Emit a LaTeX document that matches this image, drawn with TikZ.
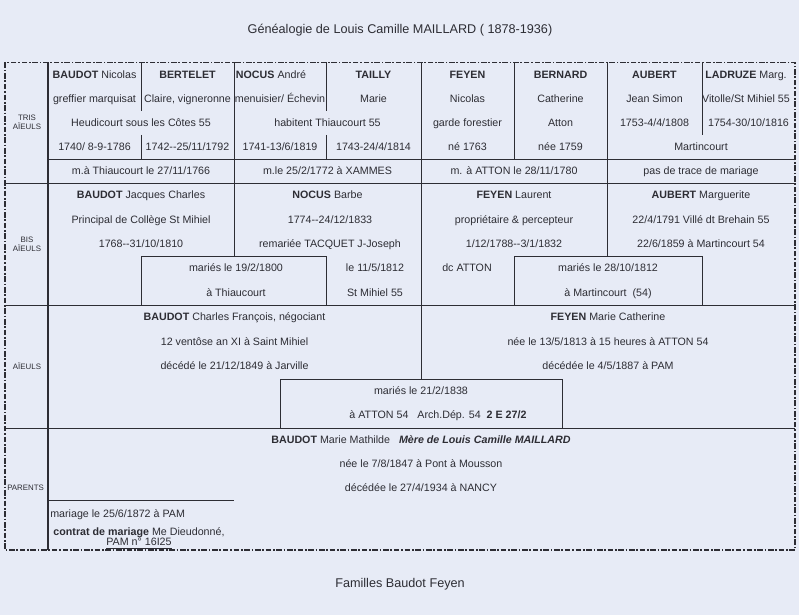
\documentclass[tikz,border=0pt]{standalone}
\usepackage{fontspec}
\setmainfont{Liberation Sans}
\definecolor{paper}{RGB}{231,235,246}
\definecolor{ink}{RGB}{45,45,52}

\begin{document}
\begin{tikzpicture}[x=0.025cm,y=-0.025cm,
 font=\fontsize{7.6}{9}\selectfont,text=ink,
 every node/.style={inner sep=0pt,text height=5.4pt,text depth=0pt},
 gen/.style={font=\fontsize{5.6}{6.6}\selectfont,align=center,text height={},text depth={}},
 big/.style={font=\fontsize{9}{11}\selectfont,text height=6.4pt},
 rule/.style={draw=ink,line width=0.55pt},
 frame/.style={draw=ink,line width=0.8pt,dash pattern=on 4pt off 1.2pt on 1.2pt off 1.2pt}]
\fill[paper] (0,0) rectangle (799,615);
\useasboundingbox (0,0) rectangle (799,615);
\node[big] (title) at (400,29) {Généalogie de Louis Camille MAILLARD ( 1878-1936)};
\node[big] (foot) at (400,583) {Familles Baudot Feyen};
% frame and generations
\draw[frame] (5,62.5) rectangle (795,550);
\draw[rule,line width=1pt] (48,62.5)--(48,550);
\draw[rule] (5,183)--(795,183); \draw[rule] (5,305)--(795,305); \draw[rule] (5,428)--(795,428);
\node[gen] (g1) at (27,122) {TRIS\\AÏEULS};
\node[gen] (g2) at (27,244) {BIS\\AÏEULS};
\node[gen] (g3) at (27,366) {AÏEULS};
\node[gen,anchor=west] (g4) at (7,488) {PARENTS};
% tris aieuls
\draw[rule] (48,159)--(795,159);
\draw[rule] (141,62.5)--(141,110.7) (141,134.8)--(141,159);
\draw[rule] (326,62.5)--(326,110.7) (326,134.8)--(326,159);
\draw[rule] (234,62.5)--(234,256); \draw[rule] (421,62.5)--(421,379);
\draw[rule] (514,62.5)--(514,159); \draw[rule] (607,62.5)--(607,256); \draw[rule] (702,62.5)--(702,134.8);
\node (ta1) at (94.5,74.5) {\textbf{BAUDOT} Nicolas};
\node (ta2) at (187.5,74.5) {\textbf{BERTELET}};
\node (ta3) at (271,74.5) {\textbf{NOCUS} André};
\node (ta4) at (373.5,74.5) {\textbf{TAILLY}};
\node (ta5) at (467.5,74.5) {\textbf{FEYEN}};
\node (ta6) at (560.5,74.5) {\textbf{BERNARD}};
\node (ta7) at (654.5,74.5) {\textbf{AUBERT}};
\node (ta8) at (746,74.5) {\textbf{LADRUZE} Marg.};
\node (tb1) at (94.5,98.6) {greffier marquisat};
\node (tb2) at (187.5,98.6) {Claire, vigneronne};
\node (tb3) at (280,98.6) {menuisier/ Échevin};
\node (tb4) at (373.5,98.6) {Marie};
\node (tb5) at (467.5,98.6) {Nicolas};
\node (tb6) at (560.5,98.6) {Catherine};
\node (tb7) at (654.5,98.6) {Jean Simon};
\node (tb8) at (746,98.6) {Vitolle/St Mihiel 55};
\node (tc1) at (141,122.7) {Heudicourt sous les Côtes 55};
\node (tc2) at (327.5,122.7) {habitent Thiaucourt 55};
\node (tc3) at (467.5,122.7) {garde forestier};
\node (tc4) at (560.5,122.7) {Atton};
\node (tc5) at (654.5,122.7) {1753-4/4/1808};
\node (tc6) at (748.5,122.7) {1754-30/10/1816};
\node (td1) at (94.5,146.8) {1740/ 8-9-1786};
\node (td2) at (187.5,146.8) {1742-{}-25/11/1792};
\node (td3) at (280,146.8) {1741-13/6/1819};
\node (td4) at (373.5,146.8) {1743-24/4/1814};
\node (td5) at (467.5,146.8) {né 1763};
\node (td6) at (560.5,146.8) {née 1759};
\node (td7) at (701,146.8) {Martincourt};
\node (te1) at (141,171) {m.à Thiaucourt le 27/11/1766};
\node (te2) at (327.5,171) {m.le 25/2/1772 à XAMMES};
\node (te3) at (514,171) {m. à ATTON le 28/11/1780};
\node (te4) at (701,171) {pas de trace de mariage};
% bis aieuls
\draw[rule] (141,305)--(141,256)--(326,256)--(326,305);
\draw[rule] (514,305)--(514,256)--(702,256)--(702,305);
\node (ba1) at (141,195) {\textbf{BAUDOT} Jacques Charles};
\node (ba2) at (327.5,195) {\textbf{NOCUS} Barbe};
\node (ba3) at (514,195) {\textbf{FEYEN} Laurent};
\node (ba4) at (701,195) {\textbf{AUBERT} Marguerite};
\node (bb1) at (141,219.4) {Principal de Collège St Mihiel};
\node (bb2) at (330,219.4) {1774-{}-24/12/1833};
\node (bb3) at (514,219.4) {propriétaire \& percepteur};
\node (bb4) at (701,219.4) {22/4/1791 Villé dt Brehain 55};
\node (bc1) at (141,243.6) {1768-{}-31/10/1810};
\node (bc2) at (330,243.6) {remariée TACQUET J-Joseph};
\node (bc3) at (514,243.6) {1/12/1788-{}-3/1/1832};
\node (bc4) at (701,243.6) {22/6/1859 à Martincourt 54};
\node (bd1) at (236,268) {mariés le 19/2/1800};
\node (bd2) at (375,268) {le 11/5/1812};
\node (bd3) at (467,268) {dc ATTON};
\node (bd4) at (608,268) {mariés le 28/10/1812};
\node (be1) at (236,292.4) {à Thiaucourt};
\node (be2) at (375,292.4) {St Mihiel 55};
\node (be3) at (608,292.4) {à Martincourt~ (54)};
% aieuls
\draw[rule] (280,428)--(280,379)--(562,379)--(562,428);
\node (aa1) at (234.5,317) {\textbf{BAUDOT} Charles François, négociant};
\node (aa2) at (608,317) {\textbf{FEYEN} Marie Catherine};
\node (ab1) at (234.5,341.5) {12 ventôse an XI à Saint Mihiel};
\node (ab2) at (608,341.5) {née le 13/5/1813 à 15 heures à ATTON 54};
\node (ac1) at (234.5,366) {décédé le 21/12/1849 à Jarville};
\node (ac2) at (608,366) {décédée le 4/5/1887 à PAM};
\node (ad1) at (421,390.5) {mariés le 21/2/1838};
\node (ae1) at (438,415) {à ATTON 54~~ Arch.Dép. 54~ \textbf{2 E 27/2}};
% parents
\draw[rule] (48,500)--(234,500);
\node (pa) at (421,440) {\textbf{BAUDOT} Marie Mathilde~~ \textbf{\itshape Mère de Louis Camille MAILLARD}};
\node (pb) at (421,464) {née le 7/8/1847 à Pont à Mousson};
\node (pc) at (421,488) {décédée le 27/4/1934 à NANCY};
\node[anchor=west] (pd) at (50,513.5) {mariage le 25/6/1872 à PAM};
\node[align=center,text height={},text depth={}] (pe) at (139,538) {\textbf{contrat de mariage} Me Dieudonné,\\[-1.5pt]\underline{PAM n° 16I25}};
\end{tikzpicture}
\end{document}
